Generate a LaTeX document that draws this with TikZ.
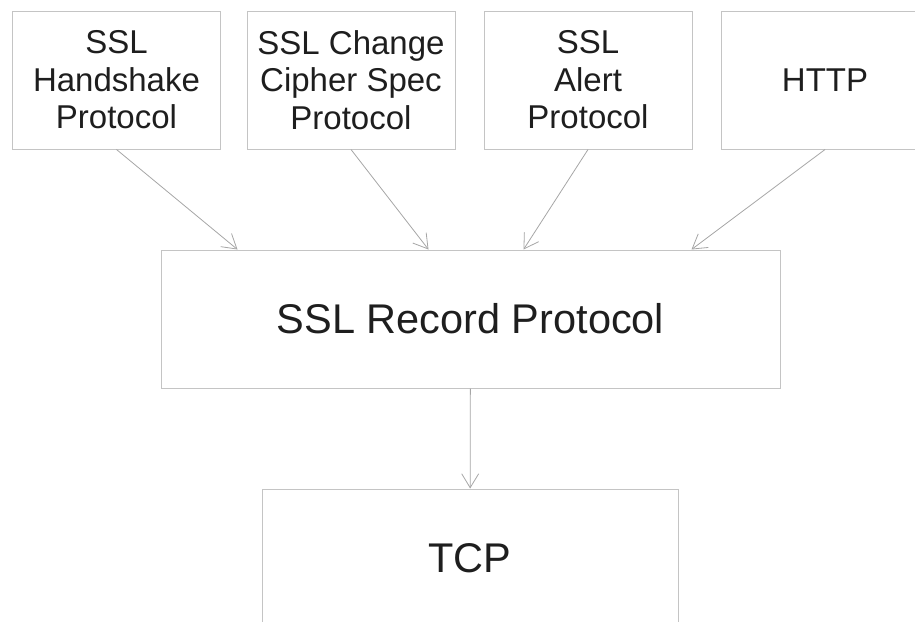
\documentclass[tikz,border=0pt]{standalone}
\usepackage{fontspec}
\setmainfont{Liberation Sans}
\usepackage{tikz}
\usetikzlibrary{arrows.meta, positioning}
\definecolor{boxline}{HTML}{C4C4C4}
\definecolor{arrowline}{HTML}{A6A6A6}
\definecolor{textdark}{HTML}{1E1E1E}
\tikzset{
  proto/.style={rectangle, draw=boxline, line width=1pt, inner sep=0pt,
                minimum width=208pt, minimum height=138pt, align=center,
                text=textdark, font=\fontsize{33}{37.5}\selectfont},
  layer/.style={proto, font=\fontsize{41.5}{48}\selectfont},
  flow/.style={-{Straight Barb[length=14pt, width=17pt]}, line width=0.8pt,
               draw=arrowline},
}

\begin{document}
\begin{tikzpicture}[x=1pt, y=1pt]
  \useasboundingbox (0,0) rectangle (915,-621);

  %% upper protocols
  \node[proto] (hs)    at (116.5,-80) {SSL\\Handshake\\Protocol};
  \node[proto] (ccs)   at (351,-80)   {SSL Change\\Cipher Spec\\Protocol};
  \node[proto] (alert) at (588,-80)   {SSL\\Alert\\Protocol};
  \node[proto] (http)  at (825,-80)   {HTTP};

  %% record layer and transport
  \node[layer, minimum width=619pt] (rec) at (470.5,-319) {SSL Record Protocol};
  \node[layer, minimum width=416pt] (tcp) at (470,-558)   {TCP};

  %% arrows into the record layer
  \draw[flow] (hs.south)    -- ([xshift=77pt]rec.north west);
  \draw[flow] (ccs.south)   -- ([xshift=268pt]rec.north west);
  \draw[flow] (alert.south) -- ([xshift=363pt]rec.north west);
  \draw[flow] (http.south)  -- ([xshift=531pt]rec.north west);
  \draw[flow] (rec) -- (tcp);
\end{tikzpicture}
\end{document}
